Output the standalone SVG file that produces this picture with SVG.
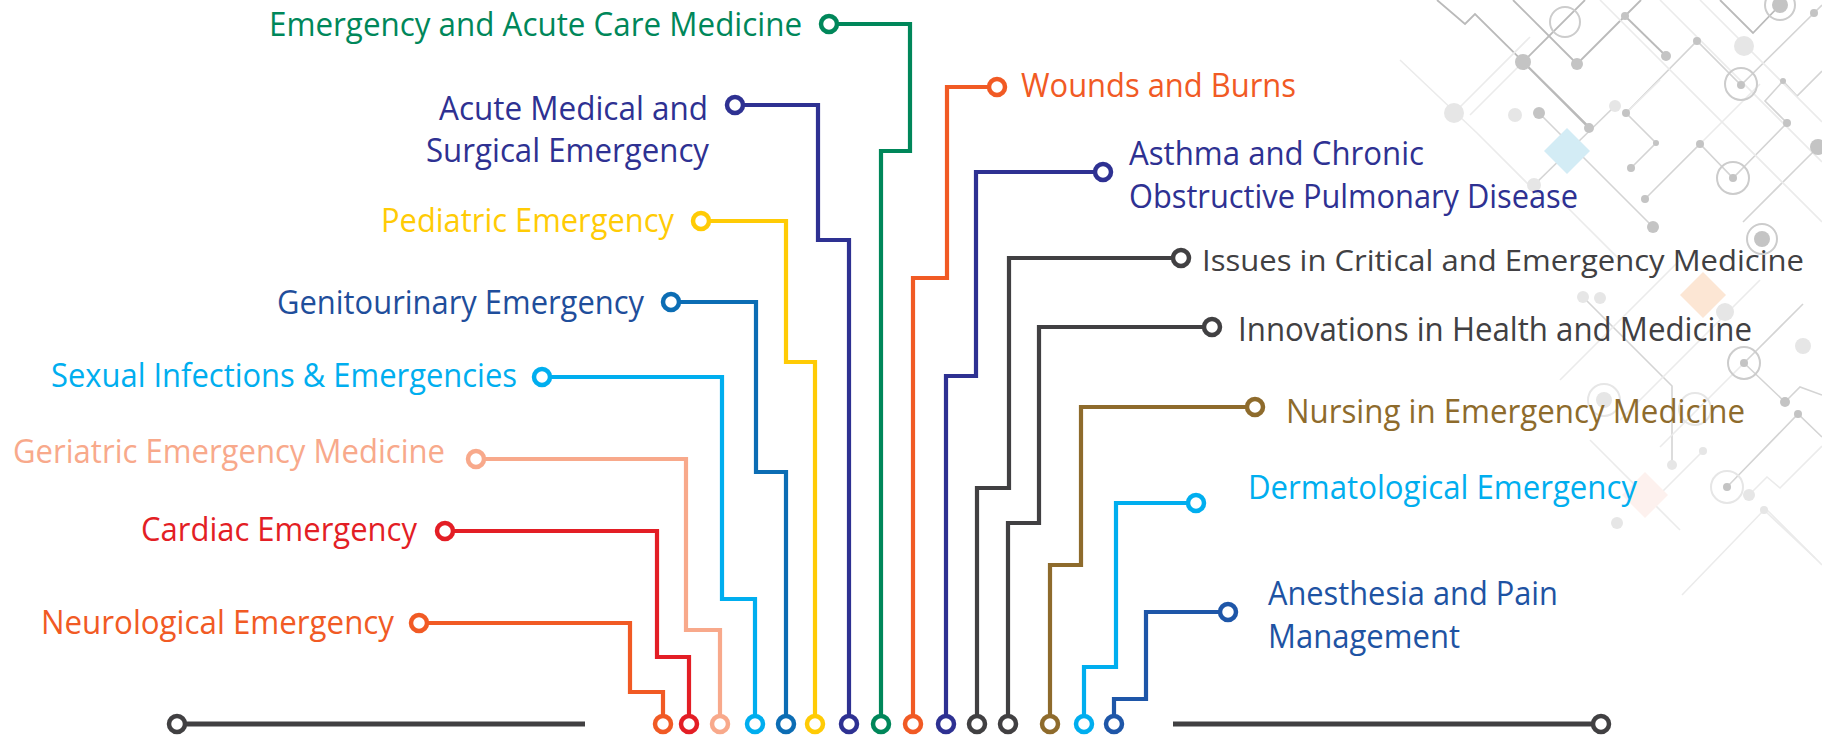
<svg xmlns="http://www.w3.org/2000/svg" width="1822" height="737" viewBox="0 0 1822 737">
<style>
text{font-family:"Open Sans","Noto Sans","Liberation Sans",sans-serif;font-size:33px}
text.small{font-size:30px}
.w{fill:none;stroke-width:4.2;stroke-linejoin:miter;stroke-linecap:butt}
.c{fill:#fff;stroke-width:4.5}
.green{stroke:#00875A}.tgreen{fill:#00875A}
.navy{stroke:#2E3192}.tnavy{fill:#2E3192}
.yel{stroke:#FFCB05}.tyel{fill:#FFCB05}
.blu{stroke:#0C6DB4}.tblu{fill:#1F4E9B}
.cyan{stroke:#00AEEF}.tcyan{fill:#00AEEF}
.sal{stroke:#F8A98B}.tsal{fill:#F8A98B}
.red{stroke:#E31E25}.tred{fill:#E31E25}
.org{stroke:#F15A24}.torg{fill:#F15A24}
.gray{stroke:#414042}.tgray{fill:#414042}
.brn{stroke:#8E6B2C}.tbrn{fill:#8E6B2C}
.ane{stroke:#1E56A8}.tane{fill:#1E53A3}
.bl{stroke:#d4d4d4;stroke-width:1.6;fill:none}
.bl2{stroke:#bababa;stroke-width:1.8;fill:none}
.bl3{stroke:#ebebeb;stroke-width:1.6;fill:none}
.bd{fill:#c4c4c4}
.bd2{fill:#e6e6e6}
.br{fill:none;stroke:#cccccc;stroke-width:2}
.br2{fill:none;stroke:#e6e6e6;stroke-width:2}
</style>

<g id="background-pattern">
  <polyline class="bl3" points="1400,60 1477,133 1540,196"/>
  <polyline class="bl2" points="1437,0 1465,24 1475,14 1590,128"/>
  <line class="bl3" x1="1454" y1="113" x2="1530" y2="37"/>
  <line class="bl2" x1="1523" y1="62" x2="1585" y2="0"/>
  <line class="bl2" x1="1523" y1="62" x2="1589" y2="128"/>
  <line class="bl3" x1="1523" y1="62" x2="1470" y2="115"/>
  <line class="bl2" x1="1513" y1="0" x2="1577" y2="64"/>
  <polyline class="bl2" points="1577,64 1625,16 1641,0"/>
  <line class="bl2" x1="1625" y1="16" x2="1666" y2="56"/>
  <line class="bl" x1="1539" y1="113" x2="1653" y2="227"/>
  <line class="bl" x1="1534" y1="185" x2="1615" y2="106"/>
  <polyline class="bl" points="1626,113 1697,41 1741,85 1814,13 1822,5"/>
  <polyline class="bl" points="1626,113 1656,143 1631,168"/>
  <line class="bl3" x1="1626" y1="113" x2="1660" y2="80"/>
  <polyline class="bl" points="1645,199 1700,144 1733,178 1787,123 1765,101 1783,81 1797,96 1822,71"/>
  <line class="bl3" x1="1700" y1="144" x2="1760" y2="84"/>
  <polyline class="bl2" points="1720,0 1753,33 1780,5"/>
  <line class="bl3" x1="1660" y1="0" x2="1822" y2="162"/>
  <line class="bl3" x1="1700" y1="0" x2="1822" y2="122"/>
  <polyline class="bl" points="1743,222 1797,168 1822,143"/>
  <line class="bl3" x1="1600" y1="0" x2="1822" y2="222"/>
  <line class="bl3" x1="1560" y1="200" x2="1620" y2="260"/>
  <polyline class="bl" points="1583,297 1672,386 1672,465"/>
  <line class="bl3" x1="1560" y1="380" x2="1680" y2="260"/>
  <line class="bl3" x1="1620" y1="420" x2="1760" y2="280"/>
  <polyline class="bl" points="1744,363 1785,402 1800,387 1822,395"/>
  <line class="bl" x1="1744" y1="363" x2="1803" y2="304"/>
  <line class="bl3" x1="1744" y1="363" x2="1660" y2="447"/>
  <polyline class="bl" points="1727,487 1798,414 1822,437"/>
  <polyline class="bl3" points="1749,495 1767,477 1780,488 1822,446"/>
  <polyline class="bl3" points="1682,595 1764,510 1815,558"/>
  <line class="bl3" x1="1765" y1="508" x2="1822" y2="565"/>
  <line class="bl3" x1="1703" y1="451" x2="1650" y2="504"/>
  <line class="bl3" x1="1590" y1="440" x2="1680" y2="530"/>
  <polygon points="1567,128 1590,151 1567,174 1544,151" fill="#D3ECF5"/>
  <polygon points="1703,272 1726,295 1703,318 1680,295" fill="#FCE6D4"/>
  <polygon points="1645,472 1668,495 1645,518 1622,495" fill="#FDF1EE"/>
  <circle class="bd" cx="1523" cy="62" r="8"/>
  <circle class="br" cx="1565" cy="22" r="15"/>
  <circle class="bd" cx="1577" cy="64" r="6"/>
  <circle class="bd" cx="1625" cy="16" r="4"/>
  <circle class="bd" cx="1666" cy="56" r="5"/>
  <circle class="bd" cx="1539" cy="113" r="6"/>
  <circle class="bd" cx="1589" cy="128" r="5"/>
  <circle class="bd2" cx="1534" cy="185" r="7"/>
  <circle class="bd2" cx="1615" cy="106" r="6"/>
  <circle class="bd2" cx="1454" cy="113" r="10"/>
  <circle class="bd2" cx="1515" cy="115" r="7"/>
  <circle class="bd" cx="1653" cy="227" r="6"/>
  <circle class="bd" cx="1626" cy="113" r="4"/>
  <circle class="bd" cx="1697" cy="41" r="4"/>
  <circle class="bd" cx="1741" cy="85" r="4"/>
  <circle class="br" cx="1741" cy="84" r="16"/>
  <circle class="bd" cx="1814" cy="13" r="4"/>
  <circle class="bd" cx="1656" cy="143" r="3"/>
  <circle class="bd" cx="1631" cy="168" r="4"/>
  <circle class="br" cx="1733" cy="178" r="16"/>
  <circle class="bd" cx="1733" cy="178" r="4"/>
  <circle class="bd" cx="1700" cy="144" r="4"/>
  <circle class="bd" cx="1787" cy="123" r="4"/>
  <circle class="bd" cx="1783" cy="81" r="3"/>
  <circle class="bd" cx="1645" cy="199" r="4"/>
  <circle class="br" cx="1780" cy="5" r="15"/>
  <circle class="bd" cx="1780" cy="5" r="8"/>
  <circle class="bd2" cx="1744" cy="46" r="10"/>
  <circle class="br" cx="1762" cy="239" r="15"/>
  <circle class="bd" cx="1762" cy="239" r="8"/>
  <circle class="bd" cx="1818" cy="147" r="8"/>
  <circle class="bd2" cx="1583" cy="297" r="6"/>
  <circle class="bd2" cx="1600" cy="298" r="6"/>
  <circle class="bd2" cx="1672" cy="465" r="5"/>
  <circle class="br2" cx="1604" cy="400" r="16"/>
  <circle class="bd2" cx="1604" cy="400" r="8"/>
  <circle class="br2" cx="1695" cy="409" r="16"/>
  <circle class="bd2" cx="1725" cy="312" r="9"/>
  <circle class="br" cx="1744" cy="363" r="16"/>
  <circle class="bd" cx="1744" cy="363" r="4"/>
  <circle class="bd" cx="1785" cy="402" r="5"/>
  <circle class="bd2" cx="1803" cy="346" r="8"/>
  <circle class="br2" cx="1727" cy="487" r="16"/>
  <circle class="bd" cx="1727" cy="487" r="4"/>
  <circle class="bd" cx="1798" cy="414" r="4"/>
  <circle class="bd2" cx="1749" cy="495" r="6"/>
  <circle class="bd2" cx="1703" cy="451" r="4"/>
  <circle class="bd2" cx="1764" cy="510" r="4"/>
  <circle class="bd2" cx="1617" cy="523" r="6"/>
</g>

<g id="baseline">
  <line class="gray" x1="185" y1="724" x2="585" y2="724" stroke-width="5"/>
  <circle class="c gray" cx="177" cy="724" r="8"/>
  <line class="gray" x1="1173" y1="724" x2="1593" y2="724" stroke-width="5"/>
  <circle class="c gray" cx="1601" cy="724" r="8"/>
</g>

<g id="connectors">
  <path class="w green" d="M837 24H910V151H881V716"/>
  <path class="w navy" d="M743 105H818V240H849V716"/>
  <path class="w yel" d="M709 221H786V362H815V716"/>
  <path class="w blu" d="M679 302H756V472H786V716"/>
  <path class="w cyan" d="M550 377H722V599H755V716"/>
  <path class="w sal" d="M484 459H686V630H720V716"/>
  <path class="w red" d="M453 531H657V657H689V716"/>
  <path class="w org" d="M427 623H630V692H663V716"/>
  <path class="w org" d="M989 87H947V278H913V716"/>
  <path class="w navy" d="M1095 172H976V376H946V716"/>
  <path class="w gray" d="M1173 258H1009V488H977V716"/>
  <path class="w gray" d="M1204 327H1039V523H1008V716"/>
  <path class="w brn" d="M1247 407H1081V565H1050V716"/>
  <path class="w cyan" d="M1188 503H1116V667H1084V716"/>
  <path class="w ane" d="M1220 612H1146V699H1114V716"/>
  <circle class="c org" cx="663" cy="724" r="8"/>
  <circle class="c red" cx="689" cy="724" r="8"/>
  <circle class="c sal" cx="720" cy="724" r="8"/>
  <circle class="c cyan" cx="755" cy="724" r="8"/>
  <circle class="c blu" cx="786" cy="724" r="8"/>
  <circle class="c yel" cx="815" cy="724" r="8"/>
  <circle class="c navy" cx="849" cy="724" r="8"/>
  <circle class="c green" cx="881" cy="724" r="8"/>
  <circle class="c org" cx="913" cy="724" r="8"/>
  <circle class="c navy" cx="946" cy="724" r="8"/>
  <circle class="c gray" cx="977" cy="724" r="8"/>
  <circle class="c gray" cx="1008" cy="724" r="8"/>
  <circle class="c brn" cx="1050" cy="724" r="8"/>
  <circle class="c cyan" cx="1084" cy="724" r="8"/>
  <circle class="c ane" cx="1114" cy="724" r="8"/>
</g>

<g id="node-emergency-acute-care">
  <circle class="c green" cx="829" cy="24" r="8"/>
  <text class="tgreen" x="269" y="36" textLength="533" lengthAdjust="spacingAndGlyphs">Emergency and Acute Care Medicine</text>
</g>
<g id="node-acute-medical-surgical">
  <circle class="c navy" cx="735" cy="105" r="8"/>
  <text class="tnavy" x="439" y="120" textLength="269" lengthAdjust="spacingAndGlyphs">Acute Medical and</text>
  <text class="tnavy" x="426" y="162" textLength="283" lengthAdjust="spacingAndGlyphs">Surgical Emergency</text>
</g>
<g id="node-pediatric">
  <circle class="c yel" cx="701" cy="221" r="8"/>
  <text class="tyel" x="381" y="232" textLength="293" lengthAdjust="spacingAndGlyphs">Pediatric Emergency</text>
</g>
<g id="node-genitourinary">
  <circle class="c blu" cx="671" cy="302" r="8"/>
  <text class="tblu" x="277" y="314" textLength="367" lengthAdjust="spacingAndGlyphs">Genitourinary Emergency</text>
</g>
<g id="node-sexual-infections">
  <circle class="c cyan" cx="542" cy="377" r="8"/>
  <text class="tcyan" x="51" y="387" textLength="466" lengthAdjust="spacingAndGlyphs">Sexual Infections &amp; Emergencies</text>
</g>
<g id="node-geriatric">
  <circle class="c sal" cx="476" cy="459" r="8"/>
  <text class="tsal" x="13" y="463" textLength="432" lengthAdjust="spacingAndGlyphs">Geriatric Emergency Medicine</text>
</g>
<g id="node-cardiac">
  <circle class="c red" cx="445" cy="531" r="8"/>
  <text class="tred" x="141" y="541" textLength="276" lengthAdjust="spacingAndGlyphs">Cardiac Emergency</text>
</g>
<g id="node-neurological">
  <circle class="c org" cx="419" cy="623" r="8"/>
  <text class="torg" x="41" y="634" textLength="353" lengthAdjust="spacingAndGlyphs">Neurological Emergency</text>
</g>
<g id="node-wounds-burns">
  <circle class="c org" cx="997" cy="87" r="8"/>
  <text class="torg" x="1021" y="97" textLength="275" lengthAdjust="spacingAndGlyphs">Wounds and Burns</text>
</g>
<g id="node-asthma-copd">
  <circle class="c navy" cx="1103" cy="172" r="8"/>
  <text class="tnavy" x="1129" y="165" textLength="295" lengthAdjust="spacingAndGlyphs">Asthma and Chronic</text>
  <text class="tnavy" x="1129" y="208" textLength="449" lengthAdjust="spacingAndGlyphs">Obstructive Pulmonary Disease</text>
</g>
<g id="node-issues-critical">
  <circle class="c gray" cx="1181" cy="258" r="8"/>
  <text class="tgray small" x="1202" y="271" textLength="602" lengthAdjust="spacingAndGlyphs">Issues in Critical and Emergency Medicine</text>
</g>
<g id="node-innovations">
  <circle class="c gray" cx="1212" cy="327" r="8"/>
  <text class="tgray" x="1238" y="341" textLength="514" lengthAdjust="spacingAndGlyphs">Innovations in Health and Medicine</text>
</g>
<g id="node-nursing">
  <circle class="c brn" cx="1255" cy="407" r="8"/>
  <text class="tbrn" x="1286" y="423" textLength="459" lengthAdjust="spacingAndGlyphs">Nursing in Emergency Medicine</text>
</g>
<g id="node-dermatological">
  <circle class="c cyan" cx="1196" cy="503" r="8"/>
  <text class="tcyan" x="1248" y="499" textLength="389" lengthAdjust="spacingAndGlyphs">Dermatological Emergency</text>
</g>
<g id="node-anesthesia">
  <circle class="c ane" cx="1228" cy="612" r="8"/>
  <text class="tane" x="1268" y="605" textLength="290" lengthAdjust="spacingAndGlyphs">Anesthesia and Pain</text>
  <text class="tane" x="1268" y="648" textLength="192" lengthAdjust="spacingAndGlyphs">Management</text>
</g>
</svg>
